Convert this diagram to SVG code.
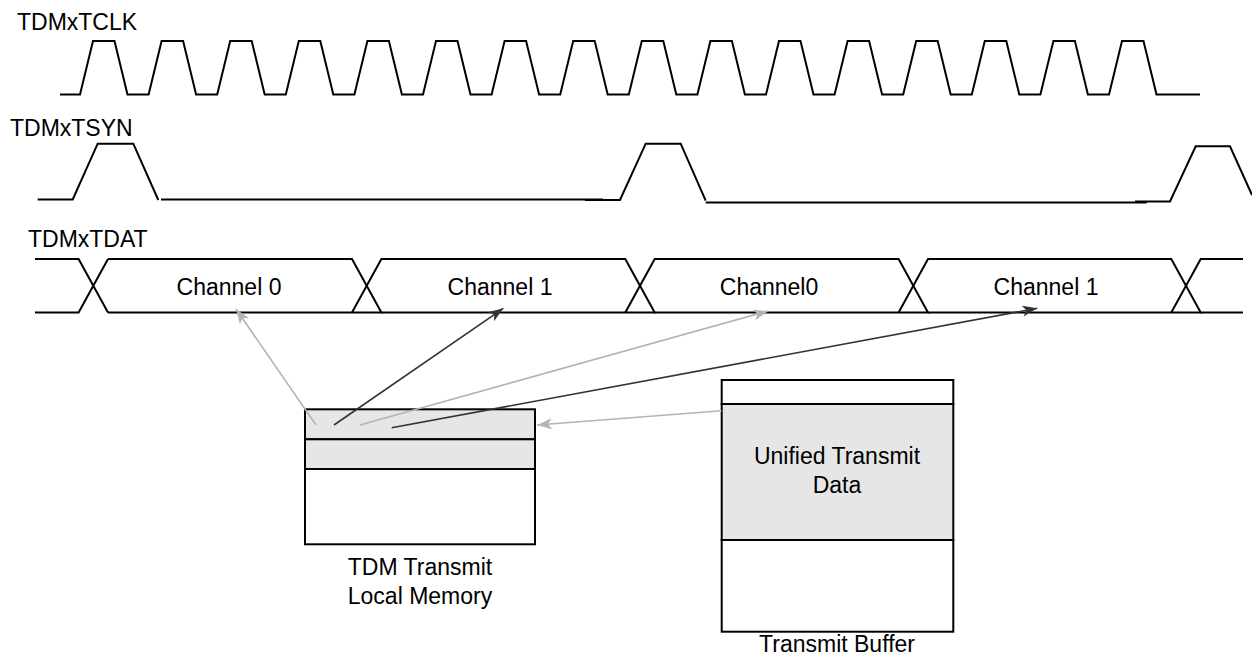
<svg xmlns="http://www.w3.org/2000/svg" width="1252" height="657" viewBox="0 0 1252 657">
<style>
text{font-family:"Liberation Sans",Arial,sans-serif;font-size:23px;fill:#000}
.wave{fill:none;stroke:#000;stroke-width:2;stroke-linejoin:miter}
.box{stroke:#000;stroke-width:2}
.g{fill:#e6e6e6}
.w{fill:#fff}
.lt{stroke:#b4b4b4;stroke-width:1.6;fill:none}
.dk{stroke:#333;stroke-width:1.6;fill:none}
.c{text-anchor:middle}
</style>
<defs>
<marker id="ag" markerUnits="userSpaceOnUse" markerWidth="16" markerHeight="12" refX="15" refY="5.5" orient="auto"><path d="M0,0 L15,5.5 L0,11 L4,5.5 Z" fill="#b4b4b4"/></marker>
<marker id="ad" markerUnits="userSpaceOnUse" markerWidth="16" markerHeight="12" refX="15" refY="5.5" orient="auto"><path d="M0,0 L15,5.5 L0,11 L4,5.5 Z" fill="#333"/></marker>
</defs>
<g id="tclk">
<text x="17" y="30">TDMxTCLK</text>
<path class="wave" d="M60,94.5 H80 L93,41 H114.5 L127.5,94.5 H148.6 L161.6,41 H183.1 L196.1,94.5 H217.2 L230.2,41 H251.7 L264.7,94.5 H285.8 L298.8,41 H320.3 L333.3,94.5 H354.4 L367.4,41 H388.9 L401.9,94.5 H423 L436,41 H457.5 L470.5,94.5 H491.6 L504.6,41 H526.1 L539.1,94.5 H560.2 L573.2,41 H594.7 L607.7,94.5 H628.8 L641.8,41 H663.3 L676.3,94.5 H697.4 L710.4,41 H731.9 L744.9,94.5 H766 L779,41 H800.5 L813.5,94.5 H834.6 L847.6,41 H869.1 L882.1,94.5 H903.2 L916.2,41 H937.7 L950.7,94.5 H971.8 L984.8,41 H1006.3 L1019.3,94.5 H1040.4 L1053.4,41 H1074.9 L1087.9,94.5 H1109 L1122,41 H1143.5 L1156.5,94.5 H1200"/>
</g>
<g id="tsyn">
<text x="10" y="136">TDMxTSYN</text>
<path class="wave" d="M37.7,199.5 H72.7 L97.7,143.7 H133.3 L158.3,200"/>
<path class="wave" d="M161,199.5 H603"/>
<path class="wave" d="M585,200 H620 L645.7,143.7 H680.7 L705.7,200.7"/>
<path class="wave" d="M705.7,202.5 H1146.7"/>
<path class="wave" d="M1135,201.5 H1170 L1195.7,146.3 H1230 L1252,195"/>
</g>
<g id="tdat">
<text x="28" y="247">TDMxTDAT</text>
<path class="wave" d="M35,259 H78.6 L108,312.5 M35,312.5 H78.6 L108,259"/>
<path class="wave" d="M108,259 H352 L381.4,312.5 H108"/>
<path class="wave" d="M352,312.5 L381.4,259 H625.3 L654.7,312.5 H381.4"/>
<path class="wave" d="M625.3,312.5 L654.7,259 H898.6 L928,312.5 H654.7"/>
<path class="wave" d="M898.6,312.5 L928,259 H1171.3 L1200.7,312.5 H928"/>
<path class="wave" d="M1171.3,312.5 L1200.7,259 H1243 M1200.7,312.5 H1243"/>
<text class="c" x="229" y="295">Channel 0</text>
<text class="c" x="500" y="295">Channel 1</text>
<text class="c" x="769" y="295">Channel0</text>
<text class="c" x="1046" y="295">Channel 1</text>
</g>
<g id="local-memory">
<rect class="box g" x="305" y="409.3" width="230" height="30"/>
<rect class="box g" x="305" y="439.3" width="230" height="29.7"/>
<rect class="box w" x="305" y="469" width="230" height="75.3"/>
<text class="c" x="420" y="575">TDM Transmit</text>
<text class="c" x="420" y="604">Local Memory</text>
</g>
<g id="transmit-buffer">
<rect class="box w" x="721.7" y="380" width="231.6" height="24"/>
<rect class="box g" x="721.7" y="404" width="231.6" height="136"/>
<rect class="box w" x="721.7" y="540" width="231.6" height="91.7"/>
<text class="c" x="837" y="464">Unified Transmit</text>
<text class="c" x="837" y="493">Data</text>
<text class="c" x="837" y="652">Transmit Buffer</text>
</g>
<g id="connectors">
<line class="lt" x1="316" y1="425" x2="236" y2="309" marker-end="url(#ag)"/>
<line class="dk" x1="334" y1="425" x2="503.3" y2="308.3" marker-end="url(#ad)"/>
<line class="lt" x1="360" y1="425" x2="768.3" y2="311" marker-end="url(#ag)"/>
<line class="dk" x1="391.7" y1="427.7" x2="1037.3" y2="308.3" marker-end="url(#ad)"/>
<line class="lt" x1="721.7" y1="410.7" x2="537" y2="425" marker-end="url(#ag)"/>
</g>
</svg>
